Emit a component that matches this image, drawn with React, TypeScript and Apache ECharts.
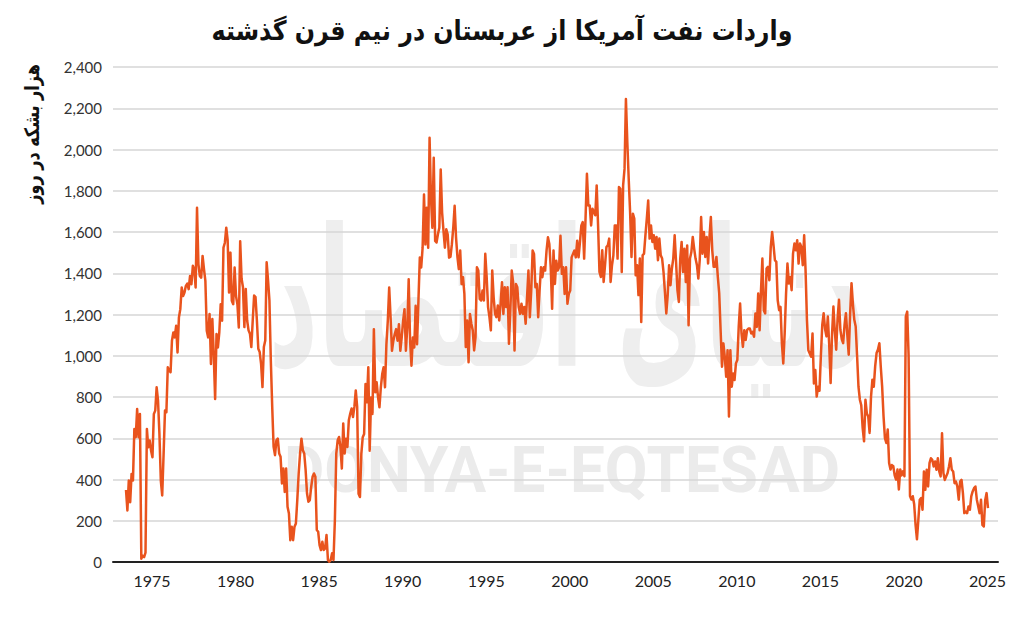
import React, { useEffect, useRef } from "react";
import * as echarts from "echarts";

// Monthly U.S. imports from Saudi Arabia (thousand barrels per day)
const START_YEAR = 1973.444; // position of the first monthly point
const YEAR_LABELS = [1975, 1980, 1985, 1990, 1995, 2000, 2005, 2010, 2015, 2020, 2025];

const imports1973_1980 = [
  350, 250, 395, 290, 427, 395, 645, 605, 742, 605, 718,
  16, 30, 24, 45, 645,
  556, 589, 540, 508, 718, 734, 847, 782, 621, 395,
  323, 524, 734, 726, 944, 930, 920, 1073, 1113, 1089,
  1145, 1016, 1186, 1226, 1331, 1290, 1307, 1339, 1350, 1323,
  1387, 1347, 1436, 1420, 1331, 1718, 1444, 1387, 1379, 1484,
  1420, 1363, 1121, 1089, 1202, 960, 1178, 1008, 790, 1105,
  1040, 1113, 1250, 1170, 1524, 1548, 1621, 1560, 1307, 1500,
  1266, 1250, 1428, 1290, 1250, 1137,
];

const imports1980_1987 = [
  1555, 1373, 1332, 1139, 1324, 1171, 1123, 1107, 1042,
  1171, 1292, 1284, 1171, 1034, 1018, 961, 848, 1042, 1074,
  1453, 1365, 1268, 977, 752, 558, 518, 590, 598, 526,
  510, 381, 453, 340, 453, 268, 235, 106, 171, 106,
  171, 187, 300, 429, 526, 598, 542, 526, 445, 332,
  292, 300, 365, 413, 429, 413, 155, 147, 82, 58,
  98, 58, 66, 131, 10, 2, 10, 42, 10, 203,
  526, 590, 606, 558, 453, 671, 526, 598, 558, 687,
  719, 744, 703, 752, 832, 752,
];

const imports1987_1993 = [
  331, 315, 524, 605, 621, 863, 774, 944, 540, 798,
  718, 1129, 823, 871, 798, 750, 847, 911, 944, 847,
  1056, 1169, 1331, 1186, 1024, 1073, 1105, 1129, 1073, 1153,
  1024, 1089, 1169, 1226, 1024, 1137, 1371, 1073, 952, 1089,
  1040, 1242, 1056, 1266, 1476, 1428, 1524, 1782, 1540, 1718,
  1524, 2057, 1766, 1621, 1960, 1557, 1549, 1589, 1621, 1903,
  1694, 1605, 1524, 1613, 1589, 1476, 1480, 1540, 1620, 1727,
  1574, 1480, 1420,
];

const imports1993_2000 = [
  1510, 1348, 1381, 1300, 1042, 1171, 969, 1203, 1155, 1123,
  1026, 1090, 1429, 1413, 1276, 1268, 1316, 1268, 1494, 1381,
  1236, 1187, 1123, 1413, 1284, 1203, 1187, 1244, 1171, 1252,
  1356, 1203, 1332, 1236, 1332, 1058, 1220, 1413, 1356, 1026,
  1348, 1332, 1236, 1203, 1252, 1203, 1236, 1155, 1284, 1413,
  1187, 1316, 1510, 1494, 1332, 1348, 1187, 1316, 1429, 1381,
  1429, 1413, 1510, 1574, 1542, 1429, 1228, 1510, 1348, 1461,
  1413, 1429, 1582, 1397, 1429, 1300, 1429, 1252, 1300, 1316,
  1477, 1494, 1510, 1477, 1558, 1477,
];

const imports2000_2007 = [
  1552, 1632, 1648, 1471, 1665, 1882, 1729, 1729, 1632, 1713,
  1697, 1681, 1826, 1632, 1406, 1382, 1511, 1358, 1439, 1527,
  1535, 1568, 1358, 1439, 1487, 1632, 1632, 1471, 1818, 1810,
  1406, 1826, 1906, 2245, 2035, 1858, 1697, 1479, 1689, 1665,
  1390, 1439, 1294, 1471, 1164, 1487, 1495, 1584, 1665, 1753,
  1568, 1632, 1552, 1584, 1519, 1576, 1463, 1568, 1487, 1471,
  1406, 1310, 1205, 1294, 1439, 1342, 1422, 1471, 1584, 1455,
  1318, 1261, 1471, 1552, 1406, 1519, 1358, 1535, 1148, 1471,
  1503, 1576, 1519, 1471, 1439, 1374,
];

const imports2007_2014 = [
  1463, 1673, 1495, 1600, 1479, 1576, 1447, 1576, 1673, 1511,
  1431, 1431, 1479, 1382, 1302, 1124, 947, 1060, 995, 898,
  1027, 705, 1027, 850, 914, 882, 963, 979, 1140, 1253,
  1108, 1043, 1124, 1076, 1124, 1132, 1132, 1108, 1116, 1092,
  1205, 1140, 1302, 1124, 1318, 1471, 1221, 1205, 1423, 1431,
  1366, 1527, 1600, 1535, 1463, 1455, 1269, 1221, 1237, 1060,
  963, 1108, 1302, 1447, 1350, 1382, 1318, 1495, 1544, 1511,
  1560, 1447, 1544, 1527, 1439, 1584, 1415, 1173, 1027, 1011,
  995, 1108, 866, 931, 802, 850,
];

const imports2014_2020 = [
  830, 1000, 1150, 1206, 1130, 1094, 1190, 1050, 868, 1100,
  1239, 1120, 1029, 1180, 1271, 1126, 1080, 1061, 1150, 1206,
  1100, 1005, 1200, 1352, 1250, 1174, 1142, 1000, 850, 787,
  760, 650, 585, 787, 720, 706, 626, 800, 884, 850,
  950, 1013, 1030, 1061, 948, 850, 706, 600, 577, 642,
  480, 448, 470, 464, 420, 400, 448, 352, 448, 420,
  440, 416, 1190, 1214, 1000, 320, 303, 319, 280, 180,
  110,
];

const imports2020_2025 = [
  205, 302, 310, 253, 439, 350, 447, 366, 479, 503,
  495, 463, 487, 447, 503, 439, 415, 624, 431, 398,
  415, 431, 463, 503, 447, 439, 382, 390, 366, 302,
  390, 398, 334, 237, 245, 237, 269, 253, 318, 342,
  358, 366, 302, 269, 237, 302, 180, 172, 300, 334,
  261,
];

const TITLE = "واردات نفت آمریکا از عربستان در نیم قرن گذشته";
const Y_NAME = "هزار بشکه در روز";

export default function App() {
  const ref = useRef<HTMLDivElement>(null);

  useEffect(() => {
    if (!ref.current) return;
    document.body.style.margin = "0";
    const chart = echarts.init(ref.current, undefined, { renderer: "svg" });

    const values = [
      ...imports1973_1980,
      ...imports1980_1987,
      ...imports1987_1993,
      ...imports1993_2000,
      ...imports2000_2007,
      ...imports2007_2014,
      ...imports2014_2020,
      ...imports2020_2025,
    ];
    const data = values.map((v, i) => [START_YEAR + i / 12, v]);

    chart.setOption({
      animation: false,
      backgroundColor: "#ffffff",
      grid: { left: 113, right: 26, top: 67, bottom: 57, containLabel: false },
      xAxis: {
        type: "value",
        min: 1972.666,
        max: 2025.627,
        axisLine: { show: true, onZero: true, lineStyle: { color: "#222222", width: 2 } },
        axisTick: { show: false },
        splitLine: { show: false },
        axisLabel: {
          customValues: YEAR_LABELS,
          formatter: (v: number) => String(Math.round(v)),
          fontSize: 16,
          color: "#222222",
          fontFamily: "Lato",
          margin: 10,
        },
      },
      yAxis: {
        type: "value",
        min: 0,
        max: 2400,
        interval: 200,
        axisLine: { show: false },
        axisTick: { show: false },
        splitLine: { lineStyle: { color: "#d6d6d6", width: 1.5 } },
        axisLabel: {
          formatter: (v: number) => v.toLocaleString("en-US"),
          fontSize: 15,
          color: "#333333",
          fontFamily: "Lato",
          margin: 11,
        },
      },
      graphic: [
        {
          type: "text",
          x: 567,
          y: 300,
          z: -10,
          scaleX: 0.8,
          scaleY: 1.6,
          silent: true,
          style: {
            text: "دنیای اقتصاد",
            font: "bold 120px 'DejaVu Sans'",
            fill: "#eeeeee",
            textAlign: "center",
            textVerticalAlign: "middle",
          },
        },
        {
          type: "text",
          x: 562,
          y: 470,
          z: -10,
          scaleX: 0.97,
          silent: true,
          style: {
            text: "DONYA-E-EQTESAD",
            font: "bold 64px Roboto",
            fill: "#ebebeb",
            textAlign: "center",
            textVerticalAlign: "middle",
          },
        },
        {
          type: "text",
          x: 502,
          y: 30,
          scaleX: 0.88,
          style: {
            text: TITLE,
            font: "bold 27px 'DejaVu Sans'",
            fill: "#111111",
            textAlign: "center",
            textVerticalAlign: "middle",
          },
        },
        {
          type: "text",
          x: 32,
          y: 134,
          rotation: Math.PI / 2,
          scaleX: 0.8,
          style: {
            text: Y_NAME,
            font: "bold 20px 'DejaVu Sans'",
            fill: "#111111",
            textAlign: "center",
            textVerticalAlign: "middle",
          },
        },
      ],
      series: [
        {
          type: "line",
          data,
          showSymbol: false,
          symbol: "none",
          lineStyle: { color: "#E9531D", width: 2.5, join: "round" },
          z: 5,
        },
      ],
    });

    return () => chart.dispose();
  }, []);

  return (
    <div
      ref={ref}
      style={{ position: "fixed", left: 0, top: 0, width: 1024, height: 619 }}
    />
  );
}
